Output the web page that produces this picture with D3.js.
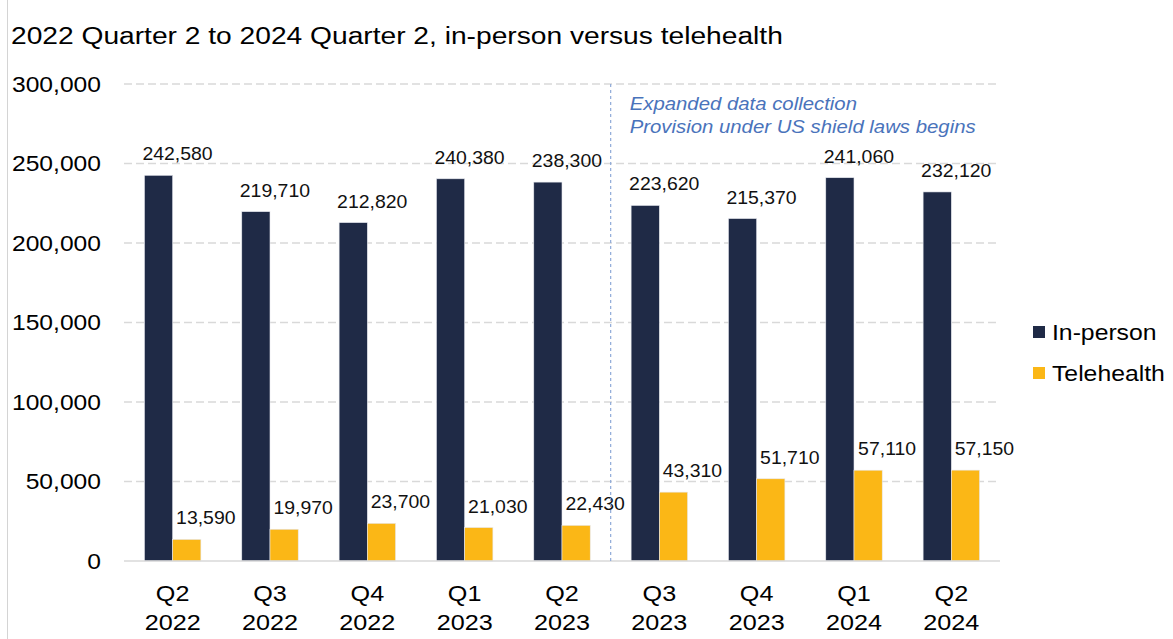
<!DOCTYPE html>
<html>
<head>
<meta charset="utf-8">
<script src="https://cdn.jsdelivr.net/npm/d3@7"></script>
<style>
  body { margin: 0; background: #fff; }
  svg { font-family: "Liberation Sans", Arial, sans-serif; }
</style>
</head>
<body>
<div id="chart"></div>
<script>
// data
const quarters = ["Q2", "Q3", "Q4", "Q1", "Q2", "Q3", "Q4", "Q1", "Q2"];
const years = ["2022", "2022", "2022", "2023", "2023", "2023", "2023", "2024", "2024"];
const inPerson = [242580, 219710, 212820, 240380, 238300, 223620, 215370, 241060, 232120];
const telehealth = [13590, 19970, 23700, 21030, 22430, 43310, 51710, 57110, 57150];
const yTicks = [0, 50000, 100000, 150000, 200000, 250000, 300000];
const seriesNames = ["In-person", "Telehealth"];
const noteLines = ["Expanded data collection", "Provision under US shield laws begins"];
const breakAfter = 4; // index of last quarter before the divider

const width = 1173, height = 639;
const colors = { "In-person": "#1f2a46", "Telehealth": "#fbb716" };

// the source picture is a little wider than it is tall, so text is stretched
function place(x, y, sx) {
  return "translate(" + x + "," + y + ") scale(" + sx + ",1)";
}

const svg = d3.select("#chart")
  .append("svg")
  .attr("width", width)
  .attr("height", height);

// thin grey frame line on the left
svg.append("line")
  .attr("x1", 7.5).attr("x2", 7.5)
  .attr("y1", 0).attr("y2", height)
  .attr("stroke", "#d4d4d4");

// title
svg.append("text")
  .attr("transform", place(11, 44, 1.15))
  .attr("font-size", 24.5)
  .attr("fill", "#000")
  .text("2022 Quarter 2 to 2024 Quarter 2, in-person versus telehealth");

const keys = quarters.map((q, i) => q + " " + years[i]);
const rows = keys.map((k, i) => ({ key: k, q: quarters[i], yr: years[i], "In-person": inPerson[i], "Telehealth": telehealth[i] }));

const x0 = d3.scaleBand()
  .domain(keys)
  .range([124, 1000])
  .paddingInner(0.42)
  .paddingOuter(0.21);

const x1 = d3.scaleBand()
  .domain(seriesNames)
  .range([0, x0.bandwidth()]);

const y = d3.scaleLinear()
  .domain([0, 300000])
  .range([561, 84]);

// gridlines
svg.append("g")
  .selectAll("line")
  .data(yTicks.filter(d => d > 0))
  .join("line")
    .attr("x1", 124).attr("x2", 1000)
    .attr("y1", d => y(d)).attr("y2", d => y(d))
    .attr("stroke", "#d9d9d9")
    .attr("stroke-width", 1.5)
    .attr("stroke-dasharray", "8,4");

// y axis labels
const yAxis = svg.append("g")
  .attr("transform", "translate(124,0)")
  .call(d3.axisLeft(y).tickValues(yTicks).tickFormat(d3.format(",")).tickSize(0).tickPadding(23));
yAxis.select(".domain").remove();
yAxis.selectAll("text")
  .attr("x", -23 / 1.12)
  .attr("transform", "scale(1.12,1)")
  .attr("font-family", "Liberation Sans, Arial, sans-serif")
  .attr("font-size", 22)
  .attr("fill", "#000");

// bars
const groups = svg.append("g")
  .selectAll("g")
  .data(rows)
  .join("g")
    .attr("transform", d => "translate(" + x0(d.key) + ",0)");

groups.selectAll("rect")
  .data(d => seriesNames.map(s => ({ s: s, v: d[s] })))
  .join("rect")
    .attr("x", d => x1(d.s))
    .attr("y", d => y(d.v))
    .attr("width", x1.bandwidth())
    .attr("height", d => y(0) - y(d.v))
    .attr("fill", d => colors[d.s])
    .attr("stroke", "#e6e8ee")
    .attr("stroke-width", 0.6);

// value labels (sit a bit right of each bar, as in the source)
groups.selectAll("text")
  .data(d => seriesNames.map(s => ({ s: s, v: d[s] })))
  .join("text")
    .attr("transform", d => place(x1(d.s) + x1.bandwidth() / 2 + 19, y(d.v) - 15, 1.08))
    .attr("text-anchor", "middle")
    .attr("font-size", 18)
    .attr("fill", "#111")
    .text(d => d3.format(",")(d.v));

// baseline
svg.append("line")
  .attr("x1", 124).attr("x2", 1000)
  .attr("y1", y(0)).attr("y2", y(0))
  .attr("stroke", "#d9d9d9")
  .attr("stroke-width", 1.5);

// x axis labels (two lines)
const xLab = svg.append("g")
  .selectAll("text")
  .data(rows)
  .join("text")
    .attr("transform", d => place(x0(d.key) + x0.bandwidth() / 2, 601, 1.12))
    .attr("text-anchor", "middle")
    .attr("font-size", 22.5)
    .attr("fill", "#000");
xLab.append("tspan").attr("x", 0).text(d => d.q);
xLab.append("tspan").attr("x", 0).attr("dy", 29).text(d => d.yr);

// divider between Q2 2023 and Q3 2023
const divX = (x0(keys[breakAfter]) + x0.bandwidth() + x0(keys[breakAfter + 1])) / 2;
svg.append("line")
  .attr("x1", divX).attr("x2", divX)
  .attr("y1", y(300000)).attr("y2", y(0))
  .attr("stroke", "#8eaad8")
  .attr("stroke-width", 1.2)
  .attr("stroke-dasharray", "3,3");

svg.append("g")
  .selectAll("text")
  .data(noteLines)
  .join("text")
    .attr("transform", (d, i) => place(divX + 19, 110 + i * 23, 1.1))
    .attr("font-size", 18.5)
    .attr("font-style", "italic")
    .attr("fill", "#4a73bb")
    .text(d => d);

// legend
const legend = svg.append("g")
  .selectAll("g")
  .data(seriesNames)
  .join("g")
    .attr("transform", (d, i) => "translate(1033," + (326 + i * 41) + ")");
legend.append("rect")
  .attr("width", 12).attr("height", 12)
  .attr("fill", d => colors[d]);
legend.append("text")
  .attr("transform", place(19, 6, 1.1))
  .attr("dy", "0.35em")
  .attr("font-size", 22.5)
  .attr("fill", "#000")
  .text(d => d);
</script>
</body>
</html>
